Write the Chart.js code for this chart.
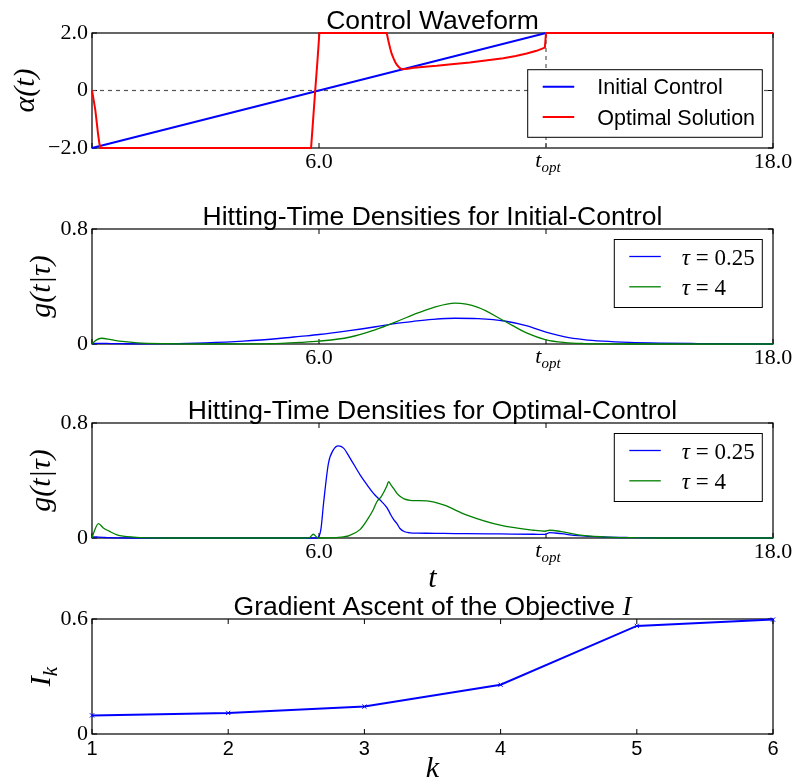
<!DOCTYPE html>
<html>
<head>
<meta charset="utf-8">
<title>Optimal control of hitting times</title>
<script src="https://cdn.jsdelivr.net/npm/chart.js@4.4.1/dist/chart.umd.min.js"></script>
<style>
  body { margin: 0; background: #fff; }
  #wrap { position: relative; width: 794px; height: 780px; overflow: hidden; }
  canvas { position: absolute; left: 0; }
</style>
</head>
<body>
<div id="wrap">
  <canvas id="control" width="794" height="195" style="top:0px"></canvas>
  <canvas id="initial" width="794" height="195" style="top:196px"></canvas>
  <canvas id="optimal" width="794" height="205" style="top:390px"></canvas>
  <canvas id="ascent" width="794" height="194" style="top:586px"></canvas>
</div>
<script>
// ---- data ----

// control waveform alpha(t)
const tInitialControl = [0, 12, 18];
const alphaInitial = [-2, 2, 2];
const tOptimalControl = [0, 0.04, 0.088, 0.12, 0.158, 0.19, 0.22, 5.79, 5.84, 5.9, 5.96, 6.01,
  7.79, 7.81, 7.83, 7.86, 7.88, 7.92, 7.97, 8.01, 8.06, 8.12, 8.19, 8.35, 8.5, 8.8, 9.11, 9.5,
  9.99, 10.4, 10.87, 11.2, 11.49, 11.75, 11.97, 12.0, 18];
const alphaOptimal = [0, -0.3, -0.68, -1.05, -1.49, -1.8, -2, -2, -1.1, 0, 1.05, 2,
  2, 1.88, 1.75, 1.58, 1.47, 1.28, 1.12, 1.0, 0.89, 0.8, 0.74, 0.76, 0.79, 0.83, 0.86, 0.91,
  0.97, 1.04, 1.12, 1.2, 1.29, 1.38, 1.49, 2, 2];
const tOpt = 12;
const alphaRange = [-2, 2];

// hitting-time densities for the initial control
const tInitialGrid = [0, 0.1, 0.25, 0.5, 0.8, 1.2, 2, 3, 4, 5, 5.5, 6, 6.8, 7.5, 8, 8.5, 9,
  9.6, 10.2, 10.9, 11.5, 12, 12.5, 13, 13.5, 14.2, 15, 16, 17, 18];
const initialTau025 = [0, 0.005, 0.005, 0.003, 0.002, 0.001, 0.002, 0.008, 0.02, 0.04, 0.053,
  0.066, 0.093, 0.12, 0.142, 0.158, 0.171, 0.179, 0.176, 0.16, 0.126, 0.082, 0.05, 0.031,
  0.02, 0.011, 0.006, 0.003, 0.001, 0];
const initialTau4 = [0, 0.025, 0.04, 0.03, 0.018, 0.008, 0.002, 0, 0.001, 0.005, 0.011, 0.02,
  0.047, 0.1, 0.15, 0.205, 0.252, 0.284, 0.255, 0.16, 0.075, 0.029, 0.01, 0.003, 0.001,
  0, 0, 0, 0, 0];

// hitting-time densities for the optimal control
const tOptimalGrid = [0, 0.05, 0.17, 0.3, 0.45, 0.66, 1.1, 2, 4, 5.6, 5.75, 5.85, 5.95, 6.05,
  6.12, 6.25, 6.38, 6.51, 6.65, 6.8, 7.09, 7.27, 7.44, 7.53, 7.65, 7.79, 7.84, 7.9, 7.97, 8.06,
  8.14, 8.25, 8.41, 8.6, 8.85, 9.29, 9.91, 10.79, 11.67, 11.97, 12.1, 12.4, 12.85, 13.5, 14.2,
  15, 16, 18];
const optimalTau025 = [0, 0.008, 0.006, 0.004, 0.002, 0.001, 0, 0, 0, 0, 0, 0, 0, 0.06, 0.24,
  0.52, 0.613, 0.641, 0.625, 0.565, 0.438, 0.37, 0.31, 0.285, 0.255, 0.213, 0.19, 0.16, 0.13,
  0.1, 0.066, 0.045, 0.036, 0.034, 0.033, 0.032, 0.03, 0.028, 0.026, 0.025, 0.038, 0.03, 0.016,
  0.007, 0.003, 0.001, 0, 0];
const optimalTau4 = [0, 0.04, 0.1, 0.07, 0.048, 0.022, 0.006, 0, 0, 0, 0.003, 0.026, 0.004, 0,
  0, 0.001, 0.002, 0.004, 0.008, 0.017, 0.06, 0.124, 0.2, 0.252, 0.29, 0.36, 0.392, 0.37, 0.345,
  0.31, 0.29, 0.272, 0.262, 0.26, 0.258, 0.23, 0.159, 0.089, 0.054, 0.047, 0.054, 0.045, 0.022,
  0.008, 0.002, 0, 0, 0];

// gradient ascent of the objective
const iterations = [1, 2, 3, 4, 5, 6];
const objective = [0.097, 0.11, 0.143, 0.257, 0.564, 0.597];

// tick positions and their labels
const timeTicks = [0, 6, 12, 18];
const timeTickLabels = ['', '6.0', 't_opt', '18.0'];
const alphaTicks = [-2, 0, 2];
const alphaTickLabels = ['\u22122.0', '0', '2.0'];
const densityTicks = [0, 0.8];
const densityTickLabels = ['0', '0.8'];
const objectiveTicks = [0, 0.6];
const objectiveTickLabels = ['0', '0.6'];
const iterationTickLabels = ['1', '2', '3', '4', '5', '6'];

// ---- drawing helpers ----
const SERIF = '"Liberation Serif", "DejaVu Serif", serif';
const SANS = '"Liberation Sans", Arial, sans-serif';
const BLUE = '#0000ff';
const RED = '#ff0000';
const GREEN = '#008000';

Chart.defaults.color = '#000';
Chart.defaults.font.family = SERIF;

const toPoints = (xs, ys) => xs.map((x, i) => ({ x, y: ys[i] }));

// draw a list of text runs (font + vertical shift) one after another
const drawRuns = function drawTextRuns(ctx, runs, x, y, align) {
  const widths = runs.map((r) => {
    ctx.font = r.font;
    return ctx.measureText(r.text).width;
  });
  const total = widths.reduce((a, b) => a + b, 0);
  let cx = align === 'center' ? x - total / 2 : x;
  ctx.textAlign = 'left';
  ctx.textBaseline = 'alphabetic';
  runs.forEach((r, i) => {
    ctx.font = r.font;
    ctx.fillText(r.text, cx, y + (r.dy || 0));
    cx += widths[i];
  });
};

const subscriptRuns = (base, sub, size) => [
  { text: base, font: `italic ${size}px ${SERIF}` },
  { text: sub, font: `italic ${Math.round(size * 0.7)}px ${SERIF}`, dy: size * 0.22 },
];

// legend label: a leading tau is set in italics like the math text
const legendRuns = function (label, font) {
  if (label.startsWith('\u03c4')) {
    return [
      { text: '\u03c4', font: `italic ${font}` },
      { text: label.slice(1), font },
    ];
  }
  return [{ text: label, font }];
};

// frame, inward ticks, titles, axis labels and boxed legend in matplotlib style
const decorPlugin = {
  id: 'decor',
  beforeDatasetsDraw(chart, args, opts) {
    const { ctx, chartArea: a, scales } = chart;
    ctx.save();
    ctx.strokeStyle = '#000';
    ctx.lineWidth = 1.2;
    ctx.strokeRect(a.left, a.top, a.width, a.height);
    ctx.beginPath();
    ctx.lineWidth = 1;
    scales.x.ticks.forEach((t) => {
      const px = scales.x.getPixelForValue(t.value);
      ctx.moveTo(px, a.bottom);
      ctx.lineTo(px, a.bottom - 5);
      ctx.moveTo(px, a.top);
      ctx.lineTo(px, a.top + 5);
    });
    scales.y.ticks.forEach((t) => {
      const py = scales.y.getPixelForValue(t.value);
      ctx.moveTo(a.left, py);
      ctx.lineTo(a.left + 5, py);
      ctx.moveTo(a.right, py);
      ctx.lineTo(a.right - 5, py);
    });
    ctx.stroke();
    ctx.restore();
  },
  afterDatasetsDraw(chart, args, opts) {
    const { ctx, chartArea: a } = chart;
    const lg = opts.legend;
    if (!lg) {
      return;
    }
    const items = chart.data.datasets.filter((d) => d.label);
    const left = a.right - 10.7 - lg.width;
    const top = lg.corner === 'bottom' ? a.bottom - 10.7 - lg.height : a.top + 10.5;
    ctx.save();
    ctx.fillStyle = '#fff';
    ctx.fillRect(left, top, lg.width, lg.height);
    ctx.strokeStyle = '#000';
    ctx.lineWidth = 1;
    ctx.strokeRect(left, top, lg.width, lg.height);
    items.forEach((d, i) => {
      const rowY = top + 17 + i * 30.3;
      ctx.strokeStyle = d.borderColor;
      ctx.lineWidth = d.borderWidth;
      ctx.beginPath();
      ctx.moveTo(left + 15, rowY);
      ctx.lineTo(left + 46.5, rowY);
      ctx.stroke();
      ctx.fillStyle = '#000';
      drawRuns(ctx, legendRuns(d.label, lg.font), left + lg.textX, rowY + lg.shift, 'left');
    });
    ctx.restore();
  },
  afterDraw(chart, args, opts) {
    const { ctx, chartArea: a, scales } = chart;
    ctx.save();
    ctx.fillStyle = '#000';
    const cx = (a.left + a.right) / 2;
    // title
    drawRuns(ctx, opts.title, cx, a.top - 4, 'center');
    // t_opt tick label with a real subscript
    if (opts.tOptTick !== undefined) {
      const px = scales.x.getPixelForValue(opts.tOptTick);
      drawRuns(ctx, subscriptRuns('t', 'opt', 22), px + 2, a.bottom + 19, 'center');
    }
    // x axis label
    if (opts.xLabel) {
      drawRuns(ctx, opts.xLabel.runs, cx, a.bottom + opts.xLabel.offset, 'center');
    }
    // rotated y axis label
    ctx.translate(opts.yLabel.x, (a.top + a.bottom) / 2);
    ctx.rotate(-Math.PI / 2);
    drawRuns(ctx, opts.yLabel.runs, 0, 0, 'center');
    ctx.restore();
  },
};

// shared options for one panel of the figure
const panelOptions = function buildPanelOptions(cfg) {
  return {
    responsive: false,
    animation: false,
    events: [],
    layout: { padding: { top: 33, right: 21, left: 0, bottom: 0 } },
    elements: { point: { radius: 0 }, line: { borderCapStyle: 'butt' } },
    plugins: {
      legend: { display: false },
      tooltip: { enabled: false },
      decor: cfg.decor,
    },
    scales: {
      x: {
        type: 'linear',
        min: cfg.xTicks[0],
        max: cfg.xTicks[cfg.xTicks.length - 1],
        afterBuildTicks: (s) => { s.ticks = cfg.xTicks.map((v) => ({ value: v })); },
        afterFit: (s) => { s.height = cfg.xHeight; },
        ticks: {
          autoSkip: false,
          maxRotation: 0,
          padding: cfg.xPad,
          font: cfg.xFont,
          callback: (v, i) => (cfg.xLabels[i] === 't_opt' ? '' : cfg.xLabels[i]),
        },
        grid: { display: false, drawTicks: false },
        border: { display: false },
      },
      y: {
        type: 'linear',
        min: cfg.yTicks[0],
        max: cfg.yTicks[cfg.yTicks.length - 1],
        afterBuildTicks: (s) => { s.ticks = cfg.yTicks.map((v) => ({ value: v })); },
        afterFit: (s) => { s.width = 92; },
        ticks: {
          autoSkip: false,
          padding: 4,
          font: { family: SERIF, size: 22 },
          callback: (v, i) => cfg.yLabels[i],
        },
        grid: { display: false, drawTicks: false },
        border: { display: false },
      },
    },
  };
};

const titleRuns = (text) => [{ text, font: `26.5px ${SANS}` }];
const serifTicks = { family: SERIF, size: 22 };

// a lower order is drawn later, i.e. on top (like matplotlib's plot order)
const lineSet = (label, xs, ys, color, width, smooth, order) => ({
  label,
  data: toPoints(xs, ys),
  borderColor: color,
  backgroundColor: color,
  borderWidth: width,
  fill: false,
  tension: 0,
  clip: 2,
  order,
  cubicInterpolationMode: smooth ? 'monotone' : 'default',
});

const dashedSet = (xs, ys) => ({
  data: toPoints(xs, ys),
  borderColor: '#555',
  borderWidth: 1.2,
  borderDash: [4, 4],
  fill: false,
  tension: 0,
  order: 5,
});

// panel 1: control waveform
new Chart(document.querySelector('#control'), {
  type: 'line',
  data: {
    datasets: [
      dashedSet([timeTicks[0], timeTicks[3]], [0, 0]),
      dashedSet([tOpt, tOpt], alphaRange),
      lineSet('Initial Control', tInitialControl, alphaInitial, BLUE, 2, false, 2),
      lineSet('Optimal Solution', tOptimalControl, alphaOptimal, RED, 2, false, 1),
    ],
  },
  options: panelOptions({
    xTicks: timeTicks,
    xLabels: timeTickLabels,
    xFont: serifTicks,
    xPad: 1,
    xHeight: 47,
    yTicks: alphaTicks,
    yLabels: alphaTickLabels,
    decor: {
      title: titleRuns('Control Waveform'),
      tOptTick: tOpt,
      yLabel: { x: 34, runs: [{ text: '\u03b1(t)', font: `italic 30px ${SERIF}` }] },
      legend: { corner: 'bottom', width: 234.6, height: 67.6, textX: 69.6, shift: 7.5, font: `21.5px ${SANS}` },
    },
  }),
  plugins: [decorPlugin],
});

const densityDecor = (title, xLabel) => ({
  title: titleRuns(title),
  tOptTick: tOpt,
  xLabel,
  yLabel: { x: 50, runs: [{ text: 'g(t|\u03c4)', font: `italic 30px ${SERIF}` }] },
  legend: { corner: 'top', width: 148, height: 68, textX: 67.4, shift: 8, font: `23px ${SERIF}` },
});

// panel 2: densities under the initial control
new Chart(document.querySelector('#initial'), {
  type: 'line',
  data: {
    datasets: [
      lineSet('\u03c4 = 0.25', tInitialGrid, initialTau025, BLUE, 1.3, true, 2),
      lineSet('\u03c4 = 4', tInitialGrid, initialTau4, GREEN, 1.3, true, 1),
    ],
  },
  options: panelOptions({
    xTicks: timeTicks,
    xLabels: timeTickLabels,
    xFont: serifTicks,
    xPad: 1,
    xHeight: 47,
    yTicks: densityTicks,
    yLabels: densityTickLabels,
    decor: densityDecor('Hitting-Time Densities for Initial-Control'),
  }),
  plugins: [decorPlugin],
});

// panel 3: densities under the optimal control
new Chart(document.querySelector('#optimal'), {
  type: 'line',
  data: {
    datasets: [
      lineSet('\u03c4 = 0.25', tOptimalGrid, optimalTau025, BLUE, 1.3, true, 2),
      lineSet('\u03c4 = 4', tOptimalGrid, optimalTau4, GREEN, 1.3, true, 1),
    ],
  },
  options: panelOptions({
    xTicks: timeTicks,
    xLabels: timeTickLabels,
    xFont: serifTicks,
    xPad: 1,
    xHeight: 57,
    yTicks: densityTicks,
    yLabels: densityTickLabels,
    decor: densityDecor('Hitting-Time Densities for Optimal-Control',
      { offset: 49, runs: [{ text: 't', font: `italic 30px ${SERIF}` }] }),
  }),
  plugins: [decorPlugin],
});

// panel 4: objective over the gradient iterations
new Chart(document.querySelector('#ascent'), {
  type: 'line',
  data: {
    datasets: [{
      data: toPoints(iterations, objective),
      borderColor: BLUE,
      backgroundColor: BLUE,
      borderWidth: 2,
      pointStyle: 'crossRot',
      pointRadius: 3,
      pointBorderWidth: 1,
      tension: 0,
      clip: 3,
    }],
  },
  options: panelOptions({
    xTicks: iterations,
    xLabels: iterationTickLabels,
    xFont: { family: SANS, size: 20 },
    xPad: 3,
    xHeight: 46,
    yTicks: objectiveTicks,
    yLabels: objectiveTickLabels,
    decor: {
      title: [
        { text: 'Gradient Ascent of the Objective ', font: `26.5px ${SANS}` },
        { text: 'I', font: `italic 27px ${SERIF}` },
      ],
      xLabel: { offset: 43, runs: [{ text: 'k', font: `italic 30px ${SERIF}` }] },
      yLabel: { x: 50, runs: subscriptRuns('I', 'k', 30) },
    },
  }),
  plugins: [decorPlugin],
});
</script>
</body>
</html>
